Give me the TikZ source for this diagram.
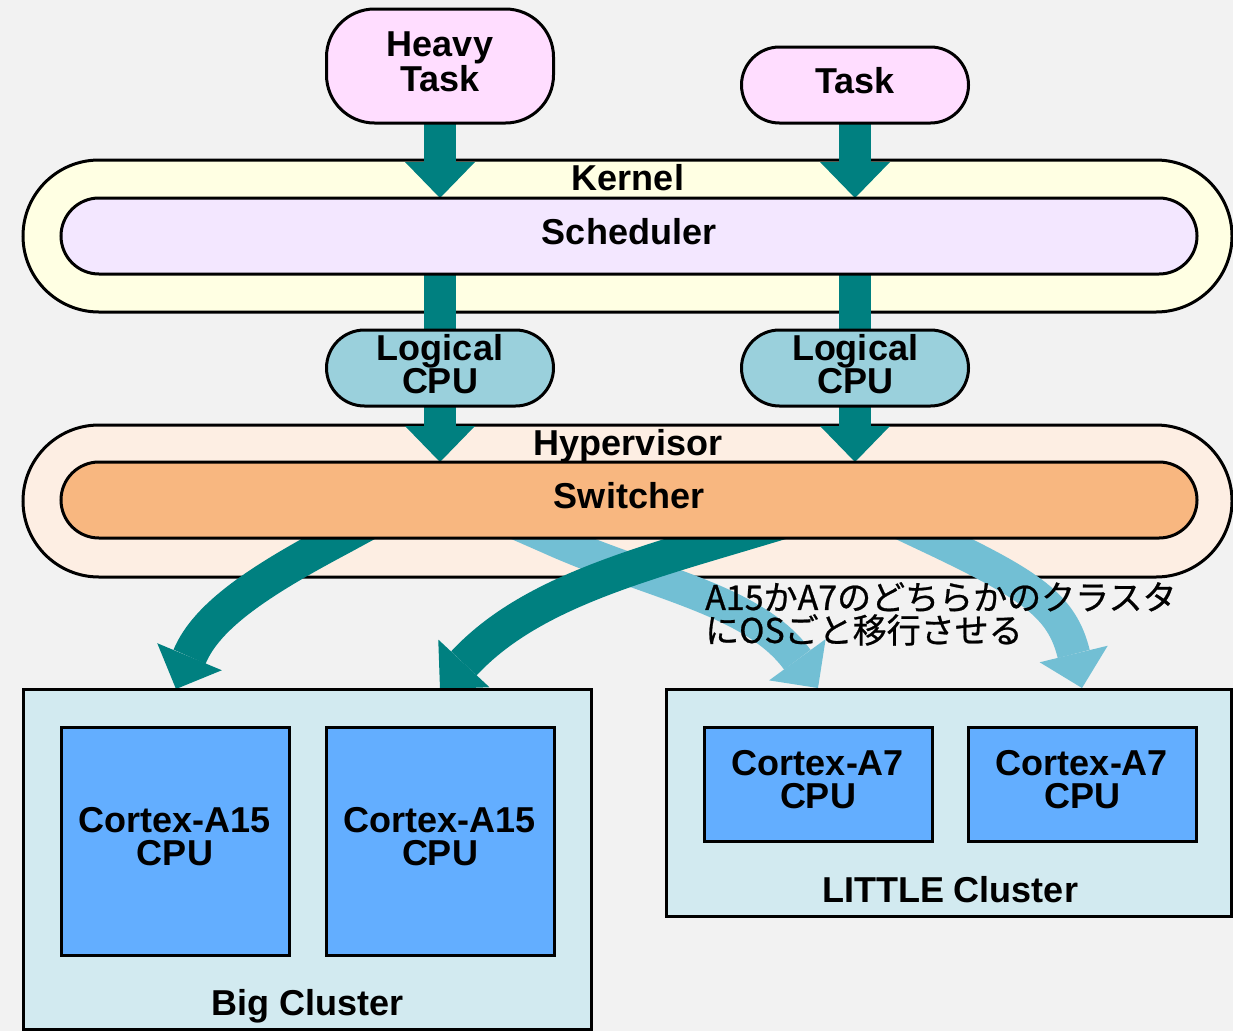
\documentclass[tikz,border=0pt]{standalone}
\usepackage{fontspec}
\setmainfont{Liberation Sans}
\newfontfamily\jpfont[FakeBold=0.7]{Noto Sans CJK JP}
\usetikzlibrary{arrows.meta, positioning}
\definecolor{bggray}{HTML}{F2F2F2}
\definecolor{taskpink}{HTML}{FFDDFF}
\definecolor{kernelyellow}{HTML}{FFFFE3}
\definecolor{schedlilac}{HTML}{F3E7FF}
\definecolor{lcpublue}{HTML}{9AD0DC}
\definecolor{hyperpeach}{HTML}{FDEEE3}
\definecolor{switchorange}{HTML}{F8B780}
\definecolor{arrowteal}{HTML}{008080}
\definecolor{arrowsky}{HTML}{72BFD4}
\definecolor{clusterblue}{HTML}{D2EAF0}
\definecolor{corefill}{HTML}{63AEFF}
\pgfdeclarelayer{back}
\pgfdeclarelayer{flow}
\pgfsetlayers{back,flow,main}
\tikzset{
  band/.style={draw, line width=3pt, rectangle, rounded corners=76pt,
    minimum width=1209pt, minimum height=152pt, outer sep=0pt},
  pill/.style={draw, line width=3pt, rectangle, rounded corners=38pt,
    minimum width=227pt, minimum height=76pt, inner sep=0pt, outer sep=0pt,
    align=center, text depth=9pt},
  layerpill/.style={pill, minimum width=1136pt},
  cluster/.style={draw, line width=3pt, fill=clusterblue, rectangle, outer sep=0pt},
  core/.style={draw, line width=3pt, fill=corefill, rectangle, minimum width=228pt,
    inner sep=0pt, outer sep=0pt, align=center, text depth=9pt},
  flow/.style={line width=32pt, arrowteal},
  flowarrow/.style={flow, -{Triangle[width=70pt, length=36pt, line width=0pt]}},
  sweep/.style={-{Triangle[width=70pt, length=35pt, line width=0pt]}}
}

\begin{document}
\begin{tikzpicture}[x=1pt, y=-1pt]
    \fontsize{36pt}{33pt}\selectfont\bfseries
    \useasboundingbox (0,0) rectangle (1233,1031);

    % Background and the two bands
    \begin{pgfonlayer}{back}
      \fill [bggray] (0,0) rectangle (1233,1031);
      \node [band, fill=kernelyellow] (kernel) at (627.5,236) {};
      \node [band, fill=hyperpeach] (hyper) at (627.5,501) {};
    \end{pgfonlayer}

    % Place the blocks
    \node [pill, fill=taskpink, minimum height=114pt, rounded corners=48pt] (heavy) at (440,66) {Heavy\\Task};
    \node [pill, fill=taskpink] (task) at (855,85) {Task};
    \node [layerpill, fill=schedlilac] (sched) at (629,236) {Scheduler};
    \node [anchor=base] (kernellbl) at (628,190) {Kernel};
    \node [pill, fill=lcpublue] (lcpua) at (440,368) {Logical\\CPU};
    \node [pill, fill=lcpublue] (lcpub) at (855,368) {Logical\\CPU};
    \node [layerpill, fill=switchorange] (switch) at (629,500) {Switcher};
    \node [anchor=base] (hyperlbl) at (628,455) {Hypervisor};

    \node [cluster, minimum width=568pt, minimum height=340pt] (big) at (307,859) {};
    \node [core, minimum height=228pt] (a15a) at (175,841) {Cortex-A15\\CPU};
    \node [core, minimum height=228pt, right=37pt of a15a] (a15b) {Cortex-A15\\CPU};
    \node [anchor=base] (biglbl) at (308,1015) {Big Cluster};
    \node [cluster, minimum width=565pt, minimum height=227pt] (little) at (948.5,802.5) {};
    \node [core, minimum height=114pt] (a7a) at (818,784) {Cortex-A7\\CPU};
    \node [core, minimum height=114pt, right=36pt of a7a] (a7b) {Cortex-A7\\CPU};
    \node [anchor=base] (littlelbl) at (950,902) {LITTLE Cluster};

    % Connect the nodes
    \begin{pgfonlayer}{flow}
      \draw [flowarrow] (heavy.south) -- (heavy.south |- sched.north);
      \draw [flowarrow] (task.south) -- (task.south |- sched.north);
      \draw [flow] (lcpua.north |- sched.south) -- (lcpua.north);
      \draw [flow] (lcpub.north |- sched.south) -- (lcpub.north);
      \draw [flowarrow] (lcpua.south) -- (lcpua.south |- switch.north);
      \draw [flowarrow] (lcpub.south) -- (lcpub.south |- switch.north);

      \coordinate (fromsky1) at (509,520);
      \coordinate (fromsky2) at (896,521);
      \coordinate (fromteal1) at (375,519);
      \coordinate (fromteal2) at (795,518);
      \coordinate (toa7a) at (818,688);
      \coordinate (toa7b) at (1082,688);
      \coordinate (toa15a) at (176,689);
      \coordinate (toa15b) at (440,689);
      \draw [sweep, line width=33pt, arrowsky] (fromsky1) -- (550,538)
        .. controls (650,583) and (753,599) .. (toa7a);
      \draw [sweep, line width=33pt, arrowsky] (fromsky2) -- (932,538)
        .. controls (1031,585) and (1062,606) .. (toa7b);
      \draw [sweep, line width=35pt, arrowteal] (fromteal1) -- (340,538)
        .. controls (261,580) and (207,615) .. (toa15a);
      \draw [sweep, line width=35pt, arrowteal] (fromteal2) -- (728,538)
        .. controls (613,572) and (522,601) .. (toa15b);
    \end{pgfonlayer}

    \node [anchor=north west, align=left, inner sep=0pt,
      font=\jpfont\mdseries\fontsize{34pt}{33pt}\selectfont] (note) at (705,582)
      {A15かA7のどちらかのクラスタ\\にOSごと移行させる};
\end{tikzpicture}
\end{document}
